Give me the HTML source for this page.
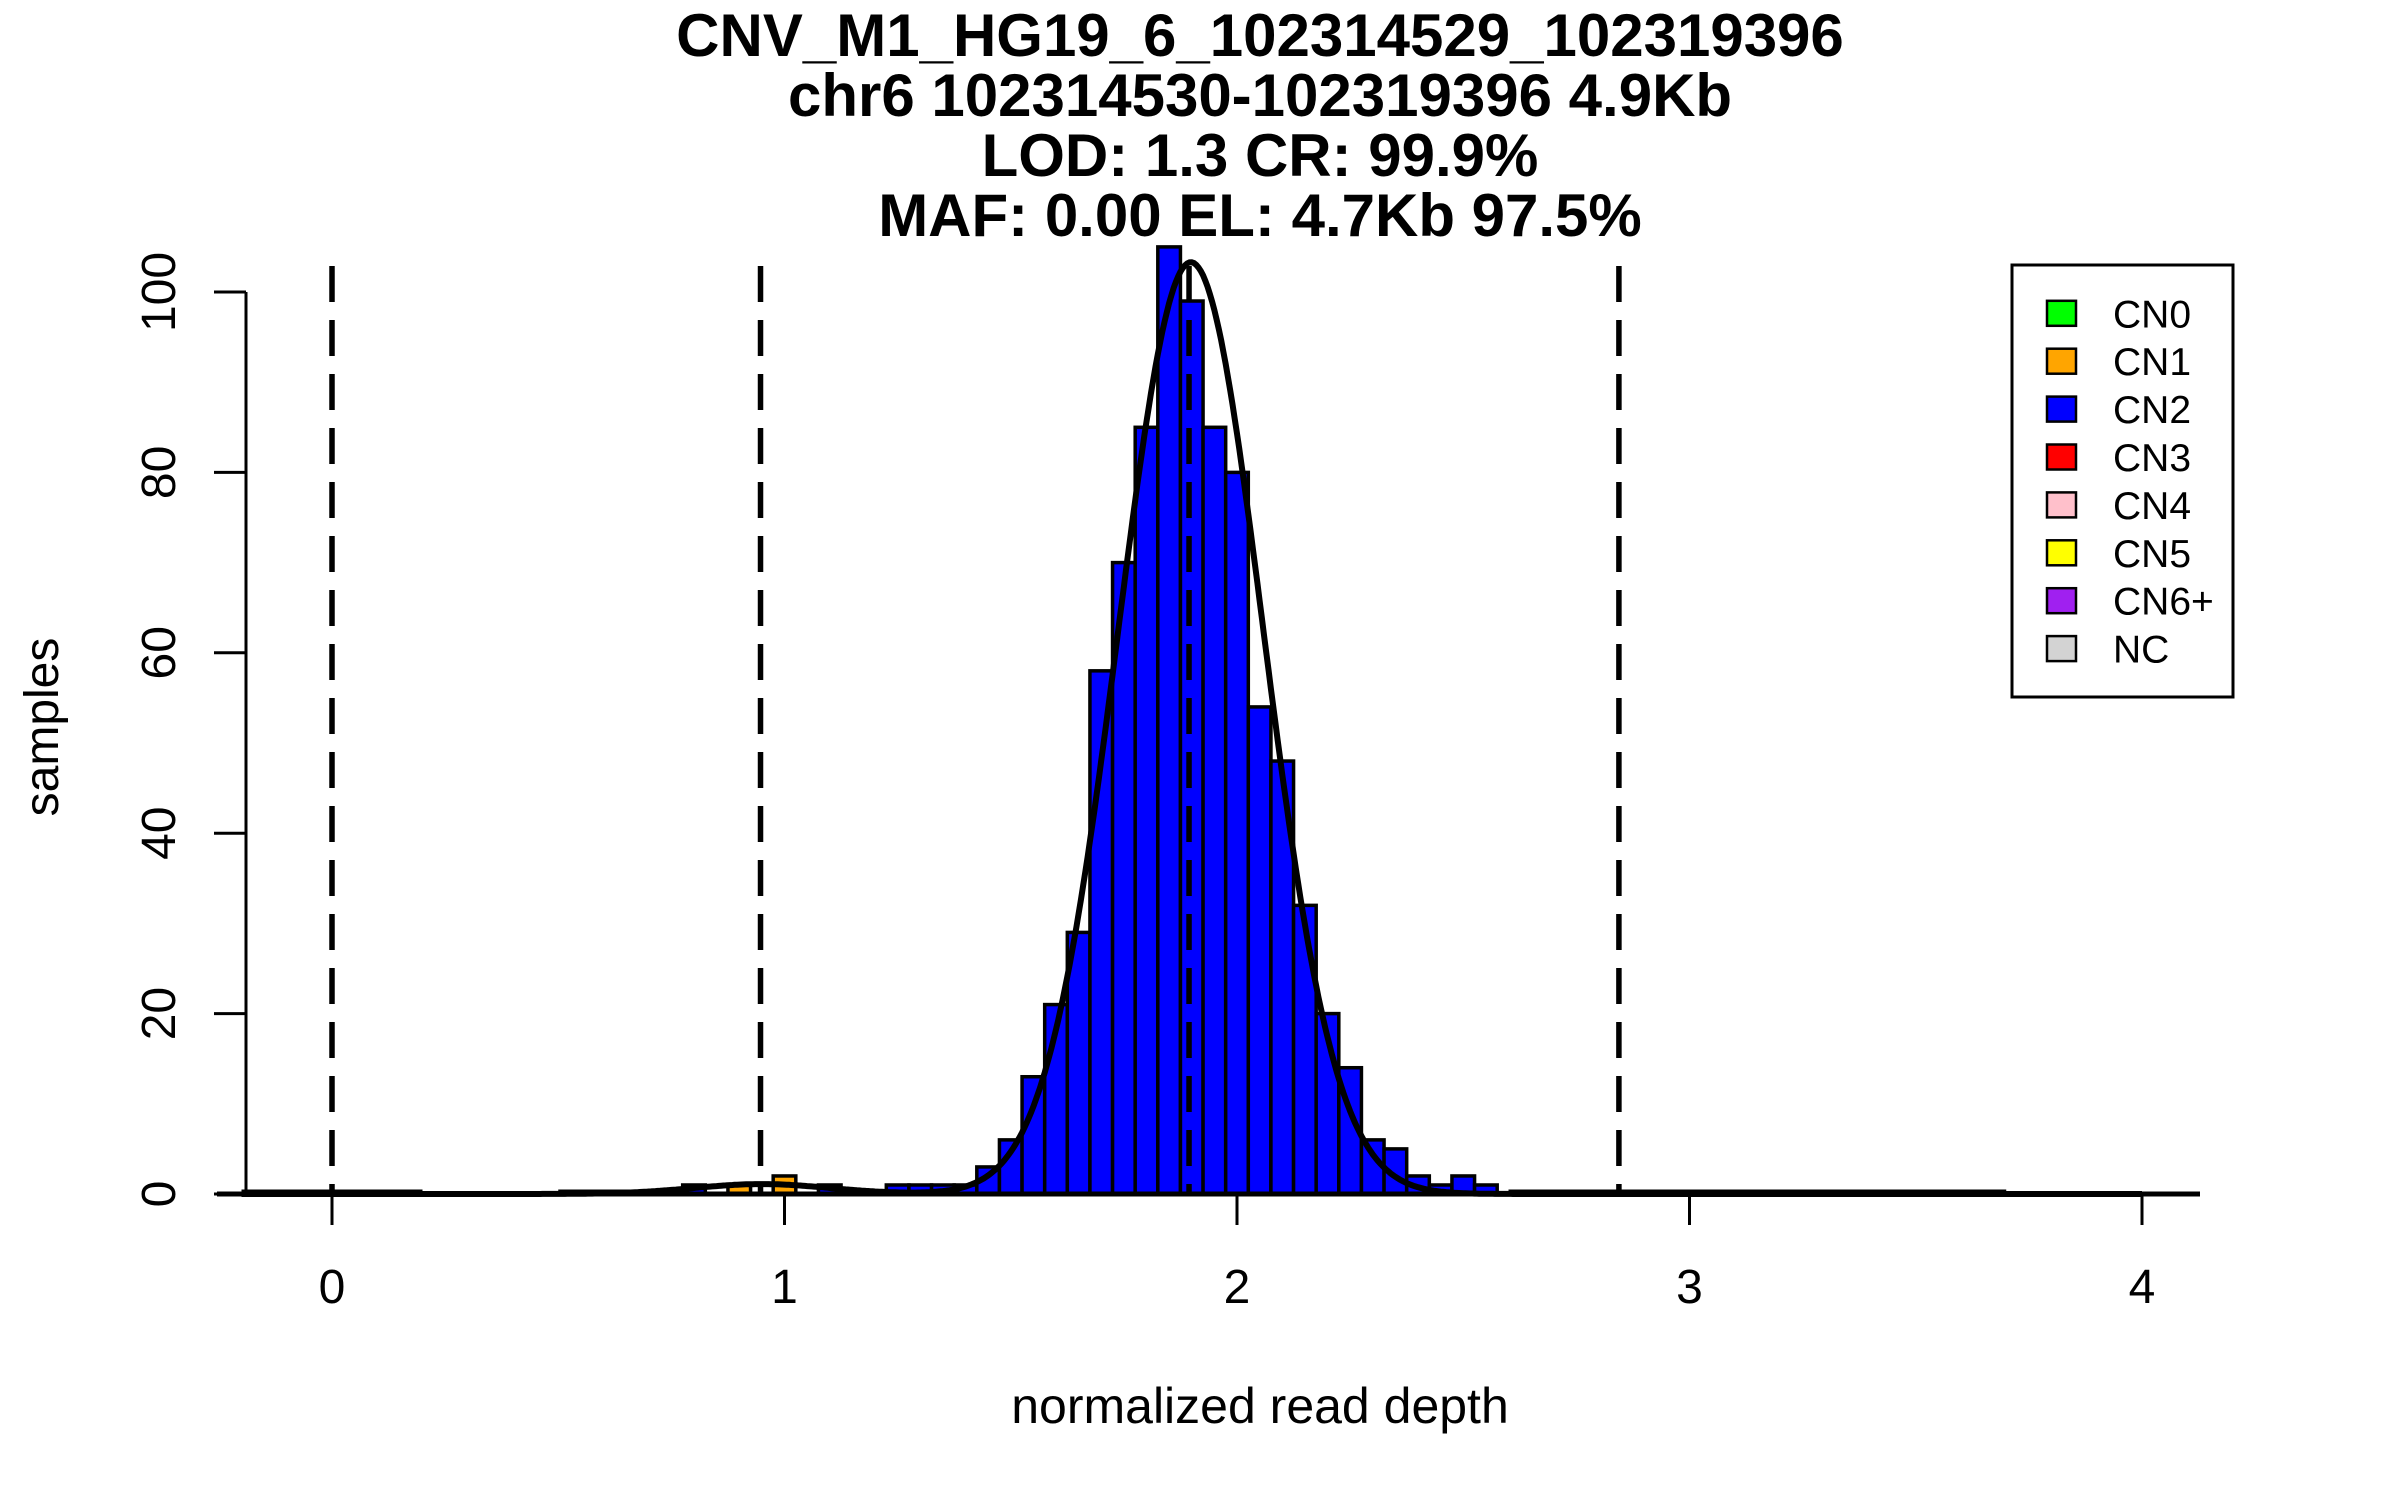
<!DOCTYPE html>
<html><head><meta charset="utf-8"><style>
html,body{margin:0;padding:0;background:#fff;}
svg{display:block;font-family:"Liberation Sans",sans-serif;}
</style></head><body>
<svg id="chart" width="2400" height="1500" viewBox="0 0 2400 1500" xmlns="http://www.w3.org/2000/svg">
<g font-weight="bold" font-size="60" text-anchor="middle">
<text x="1260" y="56">CNV_M1_HG19_6_102314529_102319396</text>
<text x="1260" y="116">chr6 102314530-102319396 4.9Kb</text>
<text x="1260" y="176">LOD: 1.3 CR: 99.9%</text>
<text x="1260" y="236">MAF: 0.00 EL: 4.7Kb 97.5%</text>
</g>
<g id="bars"></g>
<g id="baseline"></g>
<g id="curve"></g>
<g id="dashes"></g>
<g id="xaxis"></g>
<g id="yaxis"></g>
<text x="1260" y="1423" font-size="50" text-anchor="middle">normalized read depth</text>
<text transform="translate(58,727) rotate(-90)" font-size="48" text-anchor="middle">samples</text>
<g id="legend"></g>
</svg>
<script>
const binCenters = [0.8,0.9,1.0,1.1,1.25,1.3,1.35,1.4,1.45,1.5,1.55,1.6,1.65,1.7,1.75,1.8,1.85,1.9,1.95,2.0,2.05,2.1,2.15,2.2,2.25,2.3,2.35,2.4,2.45,2.5,2.55];
const binCounts  = [1,1,2,1,1,1,1,1,3,6,13,21,29,58,70,85,105,99,85,80,54,48,32,20,14,6,5,2,1,2,1];
const binClass   = ["CN2","CN1","CN1","CN2","CN2","CN2","CN2","CN2","CN2","CN2","CN2","CN2","CN2","CN2","CN2","CN2","CN2","CN2","CN2","CN2","CN2","CN2","CN2","CN2","CN2","CN2","CN2","CN2","CN2","CN2","CN2"];
const binWidth = 0.05;
const emptyRanges = [[-0.2,0.2],[0.5,0.75],[2.6,3.7]];
const fitMeans = [1.898, 0.95];
const fitSds = [0.16, 0.15];
const fitPeaks = [103.3, 1.1];
const thresholds = [0, 0.947, 1.894, 2.844];
const xTicks = [0,1,2,3,4];
const yTicks = [0,20,40,60,80,100];
const legendLabels = ["CN0","CN1","CN2","CN3","CN4","CN5","CN6+","NC"];
const legendColors = ["#00ff00","#ffa500","#0000ff","#ff0000","#ffc0cb","#ffff00","#a020f0","#d3d3d3"];
const classColor = {CN0:"#00ff00",CN1:"#ffa500",CN2:"#0000ff",CN3:"#ff0000",CN4:"#ffc0cb",CN5:"#ffff00","CN6+":"#a020f0",NC:"#d3d3d3"};

const NS="http://www.w3.org/2000/svg";
const X = v => 332 + v*452.5;
const Y = v => 1194 - v*9.02;
function mk(tag, parent, attrs){const e=document.createElementNS(NS,tag);for(const k in attrs)e.setAttribute(k,attrs[k]);parent.appendChild(e);return e;}

const barsG=document.getElementById('bars');
binCenters.forEach((c,i)=>{
  const x0=X(c-binWidth/2), x1=X(c+binWidth/2);
  const r=mk('rect',barsG,{x:x0,y:Y(binCounts[i]),width:x1-x0,height:Y(0)-Y(binCounts[i]),fill:classColor[binClass[i]],stroke:'#000','stroke-width':3.5});
  
  
});
const blG=document.getElementById('baseline');
const bl=mk('line',blG,{x1:217,x2:2200,y1:Y(0),y2:Y(0),stroke:'#000','stroke-width':5});


emptyRanges.forEach(r=>{
  const l=mk('line',blG,{x1:X(r[0]),x2:X(r[1]),y1:Y(0)-3,y2:Y(0)-3,stroke:'#000','stroke-width':3});
  
  
});

let d='';
for(let x=-0.2;x<=4.0001;x+=0.005){
  let y=0;
  for(let k=0;k<fitMeans.length;k++) y+=fitPeaks[k]*Math.exp(-Math.pow(x-fitMeans[k],2)/(2*fitSds[k]*fitSds[k]));
  d+=(d?'L':'M')+X(x).toFixed(1)+','+Y(y).toFixed(1);
}
const cp=mk('path',document.getElementById('curve'),{d:d,fill:'none',stroke:'#000','stroke-width':6});



const dG=document.getElementById('dashes');
thresholds.forEach(t=>{
  const l=mk('line',dG,{x1:X(t),x2:X(t),y1:266,y2:Y(0),stroke:'#000','stroke-width':5.5,'stroke-dasharray':'36 18'});
  
  
});

const xG=document.getElementById('xaxis');
xTicks.forEach(t=>{
  const l=mk('line',xG,{x1:X(t),x2:X(t),y1:Y(0),y2:1225,stroke:'#000','stroke-width':3});
  
  
  const tx=mk('text',xG,{x:X(t),y:1303,'font-size':48,'text-anchor':'middle'});
  tx.textContent=t;
  
  
});
const yG=document.getElementById('yaxis');
const ya=mk('line',yG,{x1:246,x2:246,y1:Y(0),y2:Y(100),stroke:'#000','stroke-width':3});


yTicks.forEach(t=>{
  const l=mk('line',yG,{x1:214,x2:246,y1:Y(t),y2:Y(t),stroke:'#000','stroke-width':3});
  
  
  const tx=mk('text',yG,{transform:'translate(175,'+Y(t)+') rotate(-90)','font-size':48,'text-anchor':'middle'});
  tx.textContent=t;
  
  
});

const lG=document.getElementById('legend');
const box=mk('rect',lG,{x:2012,y:265,width:221,height:432,fill:'#fff',stroke:'#000','stroke-width':3});


legendLabels.forEach((lab,i)=>{
  const cy=313.3+i*47.9;
  const sw=mk('rect',lG,{x:2047,y:cy-12.5,width:29,height:25,fill:legendColors[i],stroke:'#000','stroke-width':2.5});
  
  
  const tx=mk('text',lG,{x:2113,y:cy+14,'font-size':39});
  tx.textContent=lab;
  
  
});
</script>
</body></html>
